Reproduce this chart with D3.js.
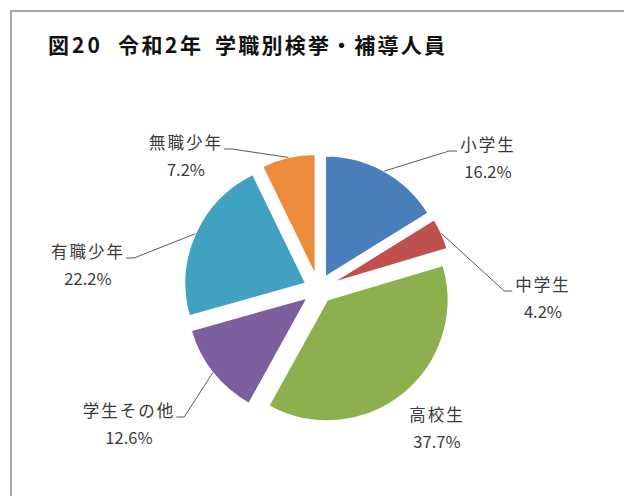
<!DOCTYPE html>
<html><head><meta charset="utf-8">
<script src="https://cdn.jsdelivr.net/npm/d3@7"></script>
<style>
html,body{margin:0;padding:0;background:#fff;}
svg{display:block;}
text{font-family:"Noto Sans CJK JP","Noto Sans",sans-serif;}
</style></head>
<body>
<svg id="c" width="624" height="496"></svg>
<script>
const titleParts = ["図20", "令和2年", "学職別検挙・補導人員"];
const categories = ["小学生","中学生","高校生","学生その他","有職少年","無職少年"];
const percents = [16.2, 4.2, 37.7, 12.6, 22.2, 7.2];
const colors = ["#4A7EBB","#C0504D","#8DB04F","#7D5FA0","#41A1C0","#EC8B3C"];
// label block centers (x, y of first line) and which side the leader attaches
const labelX = [488, 543, 437, 129, 88, 186];
const labelY = [145, 285, 415, 411, 252, 143];
const labelSide = ["left","left","none","right","right","right"];

const svg = d3.select("#c");
// frame
svg.append("path").attr("d","M11,496 L11,11 L624,11")
  .attr("fill","none").attr("stroke","#a6a6a6").attr("stroke-width",2);

const titleX = [48, 118, 215], titleW = [52, 83, 230];
titleParts.forEach((s,i)=>{
  svg.append("text").attr("x",titleX[i]).attr("y",53)
    .attr("font-size",21).attr("font-weight","bold").attr("fill","#111")
    .attr("textLength",titleW[i]).attr("lengthAdjust","spacing")
    .text(s);
});

const cx = 318.5, cy = 289, r = 121, explode = 14;
const pie = d3.pie().sort(null).value(d=>d);
const arcs = pie(percents);
const arc = d3.arc().innerRadius(0).outerRadius(r);
const edge = d3.arc().innerRadius(r).outerRadius(r);

const g = svg.append("g").attr("transform",`translate(${cx},${cy})`);
arcs.forEach((a,i)=>{
  const mid = (a.startAngle+a.endAngle)/2;
  const ox = explode*Math.sin(mid), oy = -explode*Math.cos(mid);
  g.append("path").attr("d",arc(a))
    .attr("transform",`translate(${ox},${oy})`)
    .attr("fill",colors[i]).attr("stroke","#fff").attr("stroke-width",1.5);
  const lx = labelX[i], ly = labelY[i];
  const t1 = svg.append("text").attr("x",lx).attr("y",ly).attr("dy","0.35em")
    .attr("text-anchor","middle").attr("font-size",16.5).attr("letter-spacing",2)
    .attr("fill","#3a3a3a").text(categories[i]);
  svg.append("text").attr("x",lx).attr("y",ly+27).attr("dy","0.35em")
    .attr("text-anchor","middle").attr("font-size",16.5)
    .attr("fill","#3a3a3a").text(d3.format(".1f")(percents[i])+"%");
  if(labelSide[i] !== "none"){
    const w = t1.node().getComputedTextLength();
    const [sx,sy] = edge.centroid(a);
    const px = cx+sx+ox, py = cy+sy+oy;
    const ey = ly + 6;
    let ex1, ex2;
    if(labelSide[i]==="left"){ ex2 = lx - w/2 - 3; ex1 = ex2 - 8; }
    else { ex2 = lx + w/2 + 1; ex1 = ex2 + 8; }
    svg.append("path").attr("d",`M${px},${py} L${ex1},${ey} L${ex2},${ey}`)
      .attr("fill","none").attr("stroke","#595959").attr("stroke-width",1);
  }
});
</script>
</body></html>
